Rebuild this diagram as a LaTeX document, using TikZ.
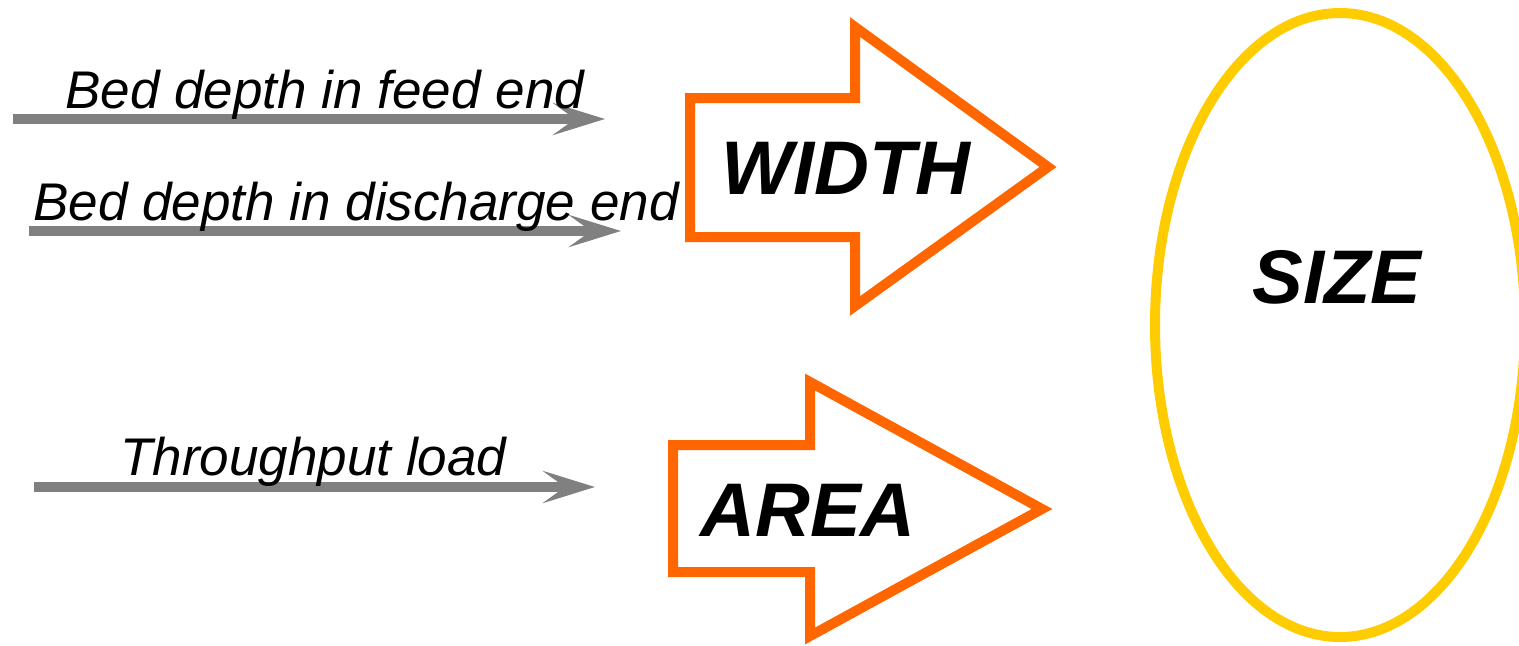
\documentclass[tikz,border=0pt]{standalone}
\usepackage{fontspec}
\setmainfont{Liberation Sans}
\usetikzlibrary{arrows.meta,shapes.geometric}
\definecolor{feedgray}{HTML}{808080}
\definecolor{shapeorange}{HTML}{FF6600}
\definecolor{sizeyellow}{HTML}{FFCC00}
\begin{document}
\begin{tikzpicture}[x=0.5pt,y=-0.5pt,
  feedline/.style={draw=feedgray, line width=5pt,
    -{Stealth[length=26pt,width=16pt,inset=11pt]}},
  feedlabel/.style={anchor=base west, inner sep=0pt,
    font=\fontsize{26.5}{30}\selectfont\itshape},
  blockarrow/.style={draw=shapeorange, line width=5pt, miter limit=10},
  bigword/.style={inner sep=0pt, font=\fontsize{38}{44}\selectfont\bfseries\itshape}]
\useasboundingbox (0,0) rectangle (1519,645);
\clip (0,0) rectangle (1519,645);

% input lines with their labels
\coordinate (s1) at (13,119);  \coordinate (e1) at (605,119);
\coordinate (s2) at (29,231);  \coordinate (e2) at (621,231);
\coordinate (s3) at (34,487);  \coordinate (e3) at (595,487);
\draw[feedline] (s1) -- (e1);
\draw[feedline] (s2) -- (e2);
\draw[feedline] (s3) -- (e3);
\node[feedlabel] (l1) at (65,108) {Bed depth in feed end};
\node[feedlabel] (l2) at (33,220) {Bed depth in discharge end};
\node[feedlabel] (l3) at (120,475) {Throughput load};

% block arrows
\draw[blockarrow] (690,98) -- (855,98) -- (855,27) -- (1048,167)
  -- (855,306) -- (855,237) -- (690,237) -- cycle;
\draw[blockarrow] (673,445) -- (810,445) -- (810,382) -- (1042,509)
  -- (810,636) -- (810,572) -- (673,572) -- cycle;
\node[bigword] (width) at (846,168) {WIDTH};
\node[bigword] (area) at (808,510) {AREA};

% result ellipse
\node[draw=sizeyellow, line width=5pt, ellipse, inner sep=0pt,
  minimum width=185pt, minimum height=312pt] (sizeshape) at (1340,325) {};
\node[bigword] (size) at (1337,277) {SIZE};
\end{tikzpicture}
\end{document}
